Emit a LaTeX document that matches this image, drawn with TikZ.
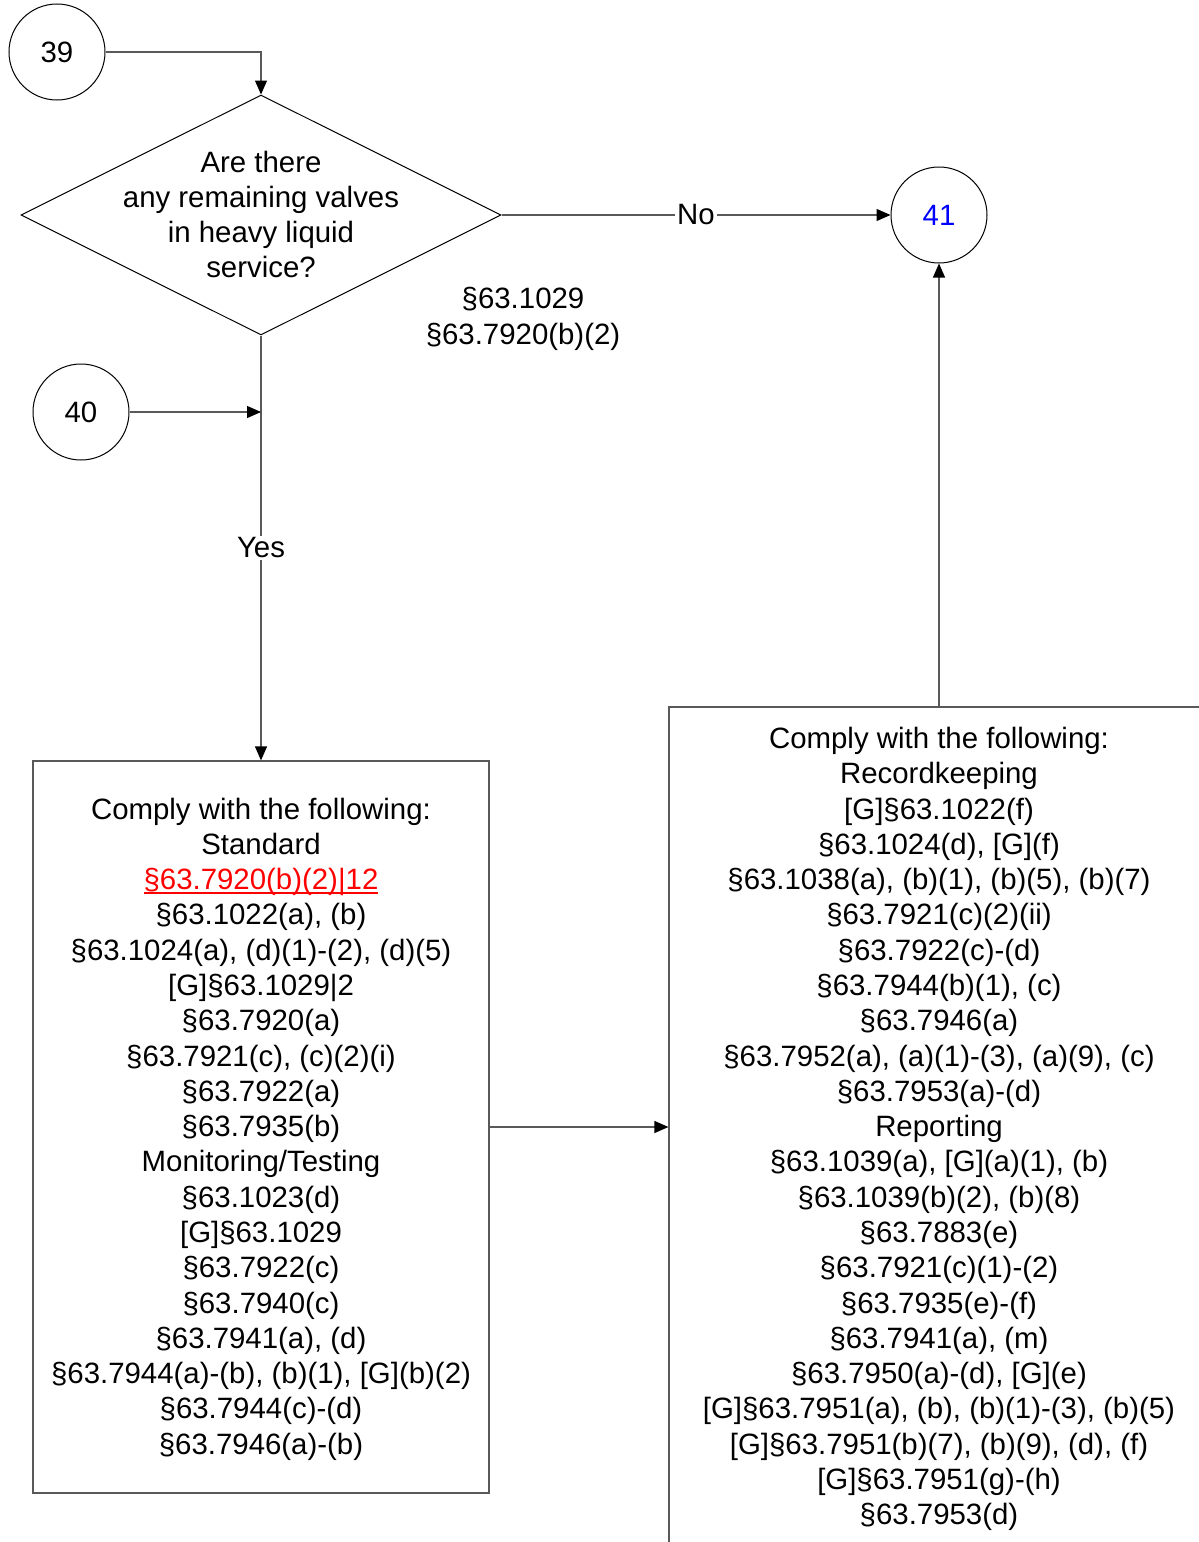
\documentclass[tikz,border=0pt]{standalone}
\usepackage{fontspec}
\setmainfont{Liberation Sans}
\usetikzlibrary{shapes.geometric,arrows.meta}
\newcommand\redul[1]{\sbox0{#1}{\color{red}\rlap{\rule[-2pt]{\wd0}{0.6pt}}#1}}
\begin{document}
\begin{tikzpicture}[x=0.5pt,y=-0.5pt,
  every node/.style={font=\fontsize{14.7pt}{17.64pt}\selectfont},
  conn/.style={draw=black!65,line width=0.6pt,-{Triangle[length=7pt,width=6pt,fill=black,color=black]}},
  conncircle/.style={circle,draw=black,line width=0.5pt,minimum size=48pt,inner sep=0pt},
  boxnode/.style={rectangle,draw=black!65,line width=0.6pt,inner sep=0pt},
  boxtext/.style={align=center,inner sep=0pt},
  lbl/.style={fill=white,inner sep=1pt}]
\useasboundingbox (0,0) rectangle (1199,1542);
\clip (0,0) rectangle (1199,1542);
\fill[white] (0,0) rectangle (1199,1542);

\node[conncircle] (c39) at (57,52) {39};
\node[conncircle] (c40) at (81,412) {40};
\node[conncircle,text=blue] (c41) at (939,215) {41};

\node[diamond,draw=black,line width=0.5pt,minimum width=240pt,minimum height=120pt,inner sep=0pt] (q) at (261,215) {};
\node[align=center] (qt) at (261,214.5) {Are there\\any remaining valves\\in heavy liquid\\service?};

\node[align=center] (ref) at (523,319) {§63.1029\\§63.7920(b)(2)};

\node[boxnode,minimum width=228pt,minimum height=366pt] (b1) at (261,1127) {};
\node[boxtext] (b1t) at (261,1129) {Comply with the following:\\Standard\\\redul{§63.7920(b)(2)|12}\\§63.1022(a), (b)\\§63.1024(a), (d)(1)-(2), (d)(5)\\{[G]}§63.1029|2\\§63.7920(a)\\§63.7921(c), (c)(2)(i)\\§63.7922(a)\\§63.7935(b)\\Monitoring/Testing\\§63.1023(d)\\{[G]}§63.1029\\§63.7922(c)\\§63.7940(c)\\§63.7941(a), (d)\\§63.7944(a)-(b), (b)(1), [G](b)(2)\\§63.7944(c)-(d)\\§63.7946(a)-(b)};

\node[boxnode,minimum width=270pt,minimum height=419pt] (b2) at (939,1126) {};
\node[boxtext] (b2t) at (939,1129) {Comply with the following:\\Recordkeeping\\{[G]}§63.1022(f)\\§63.1024(d), [G](f)\\§63.1038(a), (b)(1), (b)(5), (b)(7)\\§63.7921(c)(2)(ii)\\§63.7922(c)-(d)\\§63.7944(b)(1), (c)\\§63.7946(a)\\§63.7952(a), (a)(1)-(3), (a)(9), (c)\\§63.7953(a)-(d)\\Reporting\\§63.1039(a), [G](a)(1), (b)\\§63.1039(b)(2), (b)(8)\\§63.7883(e)\\§63.7921(c)(1)-(2)\\§63.7935(e)-(f)\\§63.7941(a), (m)\\§63.7950(a)-(d), [G](e)\\{[G]}§63.7951(a), (b), (b)(1)-(3), (b)(5)\\{[G]}§63.7951(b)(7), (b)(9), (d), (f)\\{[G]}§63.7951(g)-(h)\\§63.7953(d)};

\coordinate (j) at (261,412);

\draw[conn] (c39.east) -| (q.north);
\draw[conn] (q.east) -- node[lbl] {No} (c41.west);
\draw[conn] (q.south) -- node[lbl] {Yes} (b1.north);
\draw[conn] (c40.east) -- (j);
\draw[conn] (b1.east) -- (b1.east -| b2.west);
\draw[conn] (b2.north) -- (c41.south);
\end{tikzpicture}
\end{document}
